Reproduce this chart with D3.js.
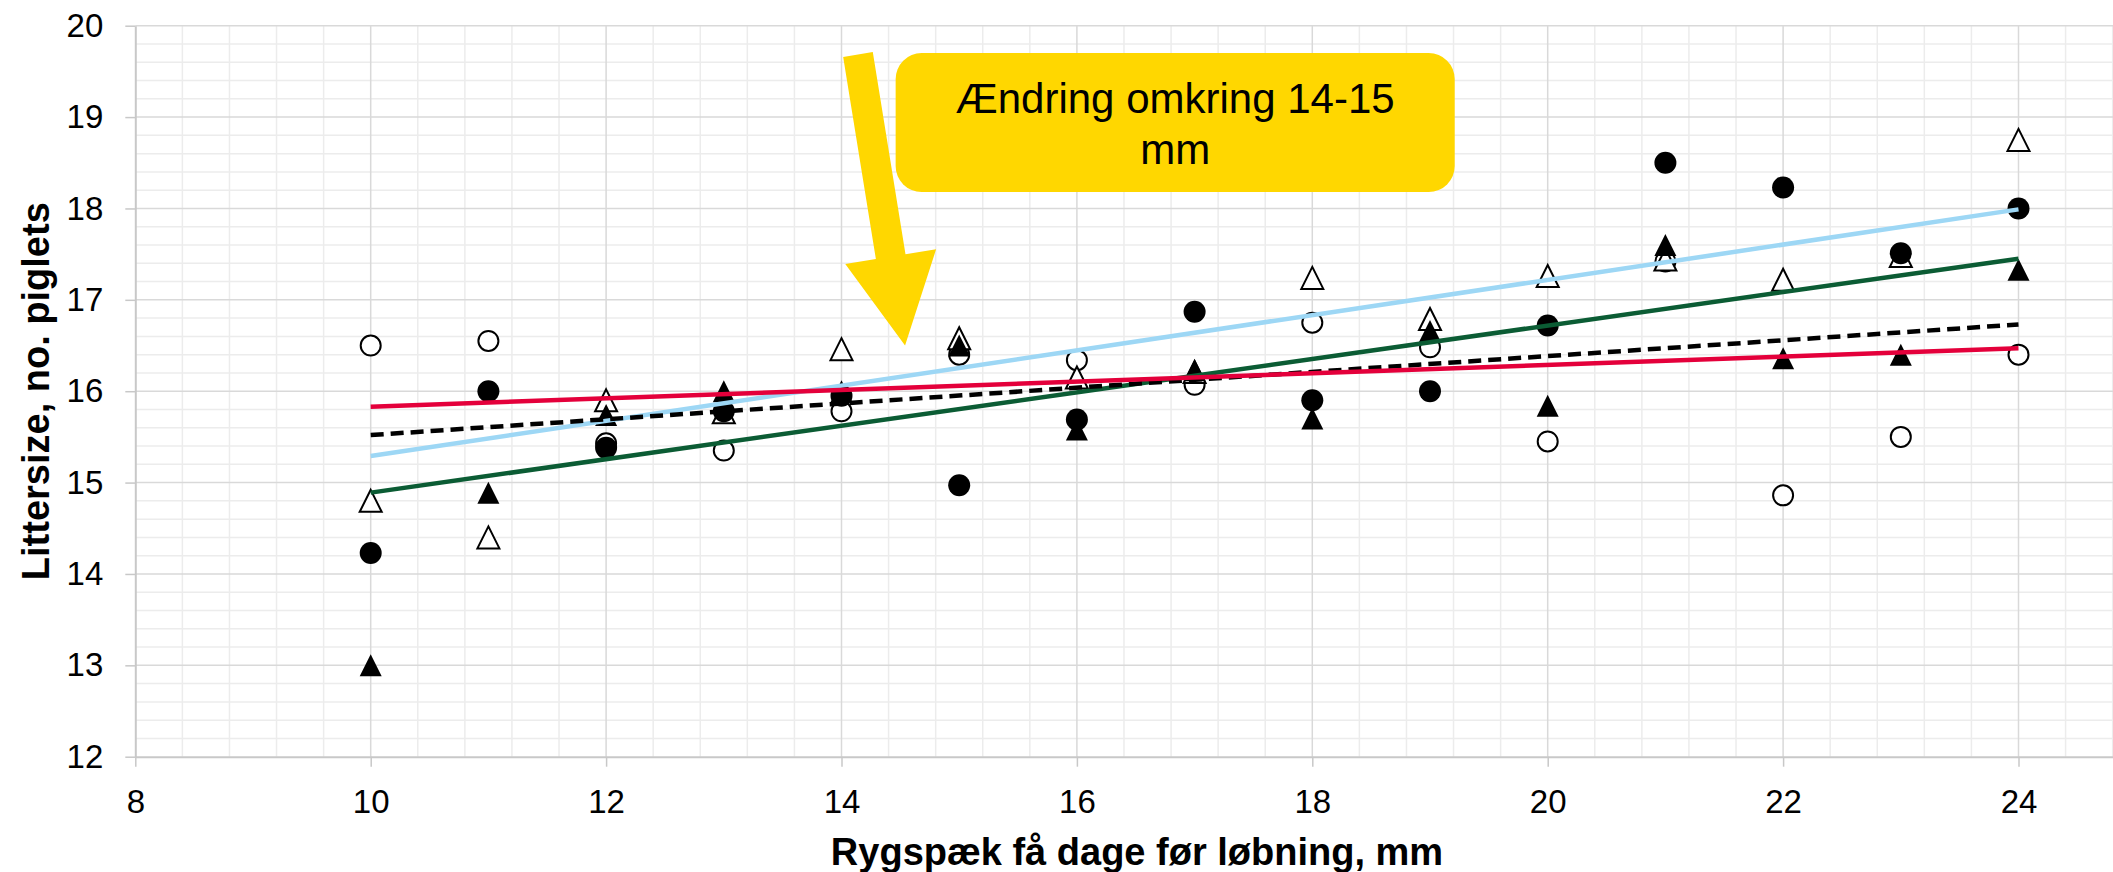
<!DOCTYPE html>
<html>
<head>
<meta charset="utf-8">
<script src="https://cdn.jsdelivr.net/npm/d3@7"></script>
<style>
  body { margin: 0; background: #fff; }
  text { font-family: "Liberation Sans", Arial, sans-serif; }
</style>
</head>
<body>
<div id="chart"></div>
<script>
// backfat (mm) measured a few days before mating
const xValues = [10, 11, 12, 13, 14, 15, 16, 17, 18, 19, 20, 21, 22, 23, 24];

// litter size per series
const filledCircles   = [14.23, 16.00, 15.38, 15.78, 15.95, 14.97, 15.69, 16.87, 15.90, 16.00, 16.72, 18.50, 18.23, 17.51, 18.00];
const openCircles     = [16.50, 16.55, 15.43, 15.35, 15.78, 16.40, 16.34, 16.07, 16.75, 16.48, 15.45, 17.42, 14.86, 15.50, 16.40];
const filledTriangles = [13.00, 14.89, 15.74, 16.00, 16.00, 16.50, 15.58, 16.23, 15.70, 16.66, 15.84, 17.60, 16.36, 16.40, 17.33];
const openTriangles   = [14.80, 14.40, 15.90, 15.77, 16.46, 16.58, 16.15, 16.21, 17.24, 16.79, 17.26, 17.44, 17.22, 17.48, 18.75];

// linear trend lines, value at x = 10 and x = 24
const trendNames = ['filledTriangles', 'openTriangles', 'all', 'openCircles'];
const trendX = [10, 24];
const trendStart = [14.89, 15.29, 15.52, 15.83];
const trendEnd = [17.45, 17.99, 16.73, 16.47];

const xTicks = [8, 10, 12, 14, 16, 18, 20, 22, 24];
const yTicks = [12, 13, 14, 15, 16, 17, 18, 19, 20];

// callout (data units)
const calloutText = ['Ændring omkring 14-15', 'mm'];
const calloutBox = { x0: 14.46, x1: 19.21, y0: 19.70, y1: 18.18 };
const arrowTail = [14.14, 19.685];
const arrowTip = [14.54, 16.50];

const width = 2113;
const height = 872;
const margin = { top: 25.7, left: 135.3, bottom: 115.3 };

const svg = d3.select('#chart').append('svg')
  .attr('width', width)
  .attr('height', height);

const x = d3.scaleLinear().domain([8, 25]).range([margin.left, margin.left + 17 * 117.7]);
const y = d3.scaleLinear().domain([12, 20]).range([height - margin.bottom, margin.top]);

const xMax = x.range()[1];

// minor gridlines
const grid = svg.append('g');
grid.selectAll('.xminor')
  .data(d3.range(8, 25.01, 0.4).filter((v) => Math.abs(v / 2 - Math.round(v / 2)) > 0.01))
  .join('line')
  .attr('x1', (d) => x(d)).attr('x2', (d) => x(d))
  .attr('y1', y(12)).attr('y2', y(20))
  .attr('stroke', '#ececec').attr('stroke-width', 1.5);
grid.selectAll('.yminor')
  .data(d3.range(12, 20.01, 0.2).filter((v) => Math.abs(v - Math.round(v)) > 0.01))
  .join('line')
  .attr('x1', x(8)).attr('x2', xMax)
  .attr('y1', (d) => y(d)).attr('y2', (d) => y(d))
  .attr('stroke', '#ececec').attr('stroke-width', 1.5);

// major gridlines
grid.selectAll('.xmajor')
  .data(xTicks.slice(1))
  .join('line')
  .attr('x1', (d) => x(d)).attr('x2', (d) => x(d))
  .attr('y1', y(12)).attr('y2', y(20))
  .attr('stroke', '#d9d9d9').attr('stroke-width', 1.5);
grid.selectAll('.ymajor')
  .data(yTicks.slice(1))
  .join('line')
  .attr('x1', x(8)).attr('x2', xMax)
  .attr('y1', (d) => y(d)).attr('y2', (d) => y(d))
  .attr('stroke', '#d9d9d9').attr('stroke-width', 1.5);

// axes
const xAxis = svg.append('g')
  .attr('transform', `translate(0,${y(12)})`)
  .call(d3.axisBottom(x).tickValues(xTicks).tickSize(10).tickSizeOuter(0).tickPadding(23));
const yAxis = svg.append('g')
  .attr('transform', `translate(${x(8)},0)`)
  .call(d3.axisLeft(y).tickValues(yTicks).tickSize(10).tickSizeOuter(0).tickPadding(22));

[xAxis, yAxis].forEach((a) => {
  a.select('.domain').attr('stroke', '#c8c8c8').attr('stroke-width', 2);
  a.selectAll('.tick line').attr('stroke', '#c8c8c8').attr('stroke-width', 1.5);
  a.selectAll('.tick text')
    .attr('fill', '#000')
    .style('font-size', '33px')
    .style('font-family', '"Liberation Sans", Arial, sans-serif');
});

// axis titles
svg.append('text')
  .attr('x', 1137)
  .attr('y', 865)
  .attr('text-anchor', 'middle')
  .style('font-size', '38px')
  .style('font-weight', 'bold')
  .text('Rygspæk få dage før løbning, mm');

svg.append('text')
  .attr('transform', `translate(49,${(y(12) + y(20)) / 2}) rotate(-90)`)
  .attr('text-anchor', 'middle')
  .style('font-size', '38px')
  .style('font-weight', 'bold')
  .text('Littersize, no. piglets');

// markers
const pts = (vals) => xValues.map((v, i) => ({ x: v, y: vals[i] }));
const circleR = 11;
const triSize = 22;
const triPath = (cx, cy) => {
  const h = triSize;
  return `M${cx},${cy - h / 2}L${cx + triSize / 2},${cy + h / 2}L${cx - triSize / 2},${cy + h / 2}Z`;
};

const marks = svg.append('g');
marks.selectAll('.oc')
  .data(pts(openCircles))
  .join('circle')
  .attr('cx', (d) => x(d.x)).attr('cy', (d) => y(d.y)).attr('r', circleR - 1)
  .attr('fill', '#fff').attr('stroke', '#000').attr('stroke-width', 2);
marks.selectAll('.ot')
  .data(pts(openTriangles))
  .join('path')
  .attr('d', (d) => triPath(x(d.x), y(d.y)))
  .attr('fill', '#fff').attr('stroke', '#000').attr('stroke-width', 2);
marks.selectAll('.ft')
  .data(pts(filledTriangles))
  .join('path')
  .attr('d', (d) => triPath(x(d.x), y(d.y)))
  .attr('fill', '#000');
marks.selectAll('.fc')
  .data(pts(filledCircles))
  .join('circle')
  .attr('cx', (d) => x(d.x)).attr('cy', (d) => y(d.y)).attr('r', circleR)
  .attr('fill', '#000');

// trend lines
const trendColor = {
  filledTriangles: '#0b5c34',
  openTriangles: '#9dd7f5',
  all: '#000',
  openCircles: '#e4003b',
};
const trends = svg.append('g');
trendNames.forEach((name, i) => {
  trends.append('line')
    .attr('x1', x(trendX[0])).attr('y1', y(trendStart[i]))
    .attr('x2', x(trendX[1])).attr('y2', y(trendEnd[i]))
    .attr('stroke', trendColor[name])
    .attr('stroke-width', 4.5)
    .attr('stroke-dasharray', name === 'all' ? '13,7' : null);
});

// callout arrow
const yellow = '#ffd700';
const t0 = [x(arrowTail[0]), y(arrowTail[1])];
const t1 = [x(arrowTip[0]), y(arrowTip[1])];
const len = Math.hypot(t1[0] - t0[0], t1[1] - t0[1]);
const u = [(t1[0] - t0[0]) / len, (t1[1] - t0[1]) / len];
const n = [-u[1], u[0]];
const shaftW = 30;
const headW = 92;
const headL = 90;
const neck = [t1[0] - u[0] * headL, t1[1] - u[1] * headL];
const off = (p, w) => [p[0] + n[0] * w, p[1] + n[1] * w];
const arrowPts = [
  off(t0, shaftW / 2), off(neck, shaftW / 2), off(neck, headW / 2), t1,
  off(neck, -headW / 2), off(neck, -shaftW / 2), off(t0, -shaftW / 2),
];
svg.append('polygon')
  .attr('points', arrowPts.map((p) => p.join(',')).join(' '))
  .attr('fill', yellow);

// callout box
const bx = x(calloutBox.x0);
const by = y(calloutBox.y0);
const bw = x(calloutBox.x1) - bx;
const bh = y(calloutBox.y1) - by;
svg.append('rect')
  .attr('x', bx).attr('y', by)
  .attr('width', bw).attr('height', bh)
  .attr('rx', 26).attr('ry', 26)
  .attr('fill', yellow);
svg.append('g')
  .selectAll('text')
  .data(calloutText)
  .join('text')
  .attr('x', bx + bw / 2)
  .attr('y', (d, i) => by + 60 + i * 50.6)
  .attr('text-anchor', 'middle')
  .style('font-size', '42px')
  .attr('fill', '#000')
  .text((d) => d);
</script>
</body>
</html>
